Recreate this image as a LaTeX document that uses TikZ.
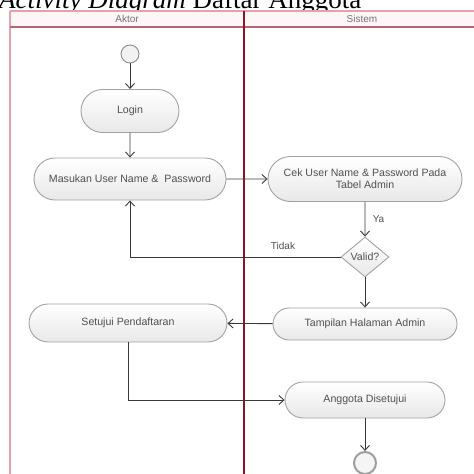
\documentclass[tikz,border=0pt]{standalone}
\usepackage{fontspec}
\setmainfont{Liberation Serif}
\newfontfamily\uifont{Liberation Sans}
\usetikzlibrary{shapes.misc,shapes.geometric,arrows.meta}

\definecolor{nodeline}{HTML}{A2A2A2}
\definecolor{nodetext}{HTML}{505050}
\definecolor{flowline}{HTML}{383838}
\definecolor{lanepink}{HTML}{E6A2AA}
\definecolor{lanered}{HTML}{8E1424}
\definecolor{headsep}{HTML}{B86474}
\definecolor{headfill}{HTML}{FCF6F8}

\tikzset{
  action/.style={rounded rectangle, draw=nodeline, line width=0.9pt,
    top color=white, bottom color=black!9, text=nodetext,
    font=\uifont\fontsize{10.6}{12}\selectfont, inner sep=0pt, align=center},
  decision/.style={diamond, draw=nodeline, line width=0.9pt,
    top color=white, bottom color=black!9, text=nodetext,
    font=\uifont\fontsize{10.6}{12}\selectfont, inner sep=0pt,
    minimum width=48pt, minimum height=40pt},
  initial/.style={circle, draw=black!45, line width=0.9pt, fill=black!5,
    minimum size=18pt, inner sep=0pt},
  final/.style={circle, draw=black!38, line width=2pt, fill=black!4,
    minimum size=22pt, inner sep=0pt},
  flow/.style={draw=flowline, line width=0.9pt,
    -{Straight Barb[length=5pt,width=9pt,line width=0.9pt]}},
  lanelabel/.style={text=black!55, font=\uifont\fontsize{10}{12}\selectfont},
  guard/.style={text=nodetext, font=\uifont\fontsize{10}{12}\selectfont},
}

\begin{document}
\begin{tikzpicture}[x=1pt,y=-1pt]
\useasboundingbox (0,0) rectangle (474,474);

% caption above the swimlanes
\node[anchor=base west, inner sep=0pt, font=\fontsize{27}{30}\selectfont]
  (caption) at (-1,8) {\textit{Activity Diagram} Daftar Anggota};

% swimlane frame
\fill[headfill] (10,11) rectangle (480,27);
\draw[lanepink, line width=2pt] (10,11) -- (480,11);
\draw[lanepink, line width=2pt] (10,11) -- (10,480);
\draw[headsep, line width=1.1pt] (10,27) -- (480,27);
\draw[lanered, line width=1.3pt] (244,11) -- (244,480);
\node[lanelabel] (laneA) at (127,18.5) {Aktor};
\node[lanelabel] (laneS) at (362,18.5) {Sistem};

% activity nodes
\node[initial] (start) at (130,54) {};
\node[action, minimum width=98pt, minimum height=43pt] (login) at (130,111) {Login};
\node[action, minimum width=192pt, minimum height=42pt] (masuk) at (130,179)
  {Masukan User Name \&\ \ Password};
\node[action, minimum width=194pt, minimum height=45pt] (cek) at (365,179)
  {Cek User Name \& Password Pada\\Tabel Admin};
\node[decision] (valid) at (365,257) {Valid?};
\node[action, minimum width=184pt, minimum height=32pt] (tampil) at (365,324)
  {Tampilan Halaman Admin};
\node[action, minimum width=198pt, minimum height=38pt] (setuju) at (128,323)
  {Setujui Pendaftaran};
\node[action, minimum width=160pt, minimum height=36pt] (anggota) at (365,400)
  {Anggota Disetujui};
\node[final] (stop) at (365,463) {};

% control flow
\draw[flow] (start) -- (login);
\draw[flow] (login) -- (masuk);
\draw[flow] (masuk) -- (cek);
\draw[flow] (cek) -- node[guard, right, xshift=4pt] {Ya} (valid);
\draw[flow] (valid.west) -| (masuk.south);
\node[guard] (tidak) at (283,246) {Tidak};
\draw[flow] (valid) -- (tampil);
\draw[flow] (tampil) -- (setuju);
\draw[flow] (setuju.south) |- (anggota.west);
\draw[flow] (anggota) -- (stop);
\end{tikzpicture}
\end{document}
